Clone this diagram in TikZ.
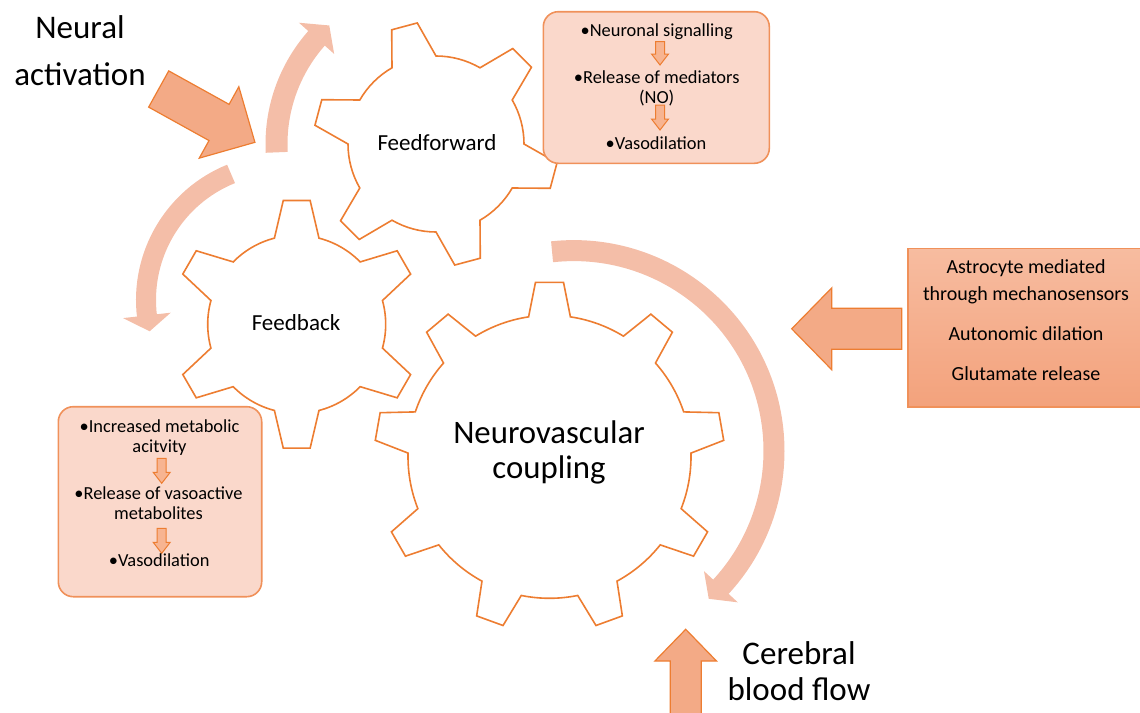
\documentclass[tikz,border=0pt]{standalone}
\usepackage{fontspec}
\setmainfont{Carlito}

\definecolor{gearorange}{RGB}{237,125,49}
\definecolor{bandpink}{RGB}{244,190,168}
\definecolor{boxpink}{RGB}{250,216,203}
\definecolor{boxline}{RGB}{240,145,90}
\definecolor{arrowfill}{RGB}{243,170,134}

\tikzset{
	pics/blockarrow/.style args={#1/#2/#3/#4/#5}{code={
		\draw[#5] (0,-#2) -- ({#1-#4},-#2) -- ({#1-#4},-#3) -- (#1,0) -- ({#1-#4},#3) -- ({#1-#4},#2) -- (0,#2) -- cycle;
	}}
}

\begin{document}
\begin{tikzpicture}[x=0.5pt,y=0.5pt,
	gear/.style={draw=gearorange,line width=0.8pt,fill=white},
	band/.style={draw=bandpink,line width=#1},
	notebox/.style={draw=boxline,fill=boxpink,line width=0.8pt,rounded corners=7.5pt},
	sidebox/.style={draw=boxline,top color={rgb,255:red,247;green,188;blue,160},bottom color={rgb,255:red,243;green,162;blue,124},line width=0.8pt},
	bigarr/.style={draw=gearorange,fill=arrowfill,line width=0.6pt},
	smallarr/.style={draw=gearorange,fill={rgb,255:red,247;green,180;blue,145},line width=0.5pt},
	biglabel/.style={font=\fontsize{16.5}{23.5}\selectfont,align=center,anchor=base},
	gearlabel/.style={font=\fontsize{11.5}{14}\selectfont,align=center,anchor=base},
	boxtext/.style={font=\fontsize{9.2}{10}\selectfont,align=center,anchor=base,inner sep=0pt}]
	\useasboundingbox (0,0) rectangle (1140,-712);
	\clip (0,0) rectangle (1140,-712);

	% round arrows around the gears
	\begin{scope}[shift={(436,-144)}]
		\draw[band=11pt] (183:159.5) arc[start angle=183,end angle=138,radius=159.5];
		\fill[bandpink] (138.5:183) -- (132:159.5) -- (138.5:136) -- cycle;
	\end{scope}
	\begin{scope}[shift={(282,-300)}]
		\draw[band=10pt] (112:136) arc[start angle=112,end angle=187,radius=136];
		\fill[bandpink] (186.5:160) -- (193.3:136) -- (186.5:112) -- cycle;
	\end{scope}
	\begin{scope}[shift={(573.7,-450.9)}]
		\draw[band=10.5pt] (96.2:200.3) arc[start angle=96.2,end angle=-43.2,radius=200.3];
		\fill[bandpink] (-42.7:223.3) -- (-47.6:200.3) -- (-42.7:177.3) -- cycle;
	\end{scope}

	% gears
	\draw[gear,shift={(436,-144)}] (30:88) \foreach \a in {45,105,...,345} {
		-- ({\a-15}:88) -- ({\a-6.2}:122.5) -- ({\a+6.2}:122.5) -- ({\a+15}:88) arc[start angle=\a+15,end angle=\a+45,radius=88]
	} -- cycle;
	\draw[gear,shift={(296.7,-324.3)}] (75.5:89) \foreach \a in {90,150,...,390} {
		-- ({\a-14.5}:89) -- ({\a-6.2}:124.5) -- ({\a+6.2}:124.5) -- ({\a+14.5}:89) arc[start angle=\a+14.5,end angle=\a+45.5,radius=89]
	} -- cycle;
	\draw[gear,shift={(549.5,-456.8)}] (81.5:141.5) \foreach \a in {90,130,...,410} {
		-- ({\a-8.5}:141.5) -- ({\a-4.6}:175) -- ({\a+4.6}:175) -- ({\a+8.5}:141.5) arc[start angle=\a+8.5,end angle=\a+31.5,radius=141.5]
	} -- cycle;

	% boxes
	\node (ffbox) [notebox,minimum width=113pt,minimum height=75.8pt] at (656.3,-87.5) {};
	\node (fbbox) [notebox,minimum width=101.7pt,minimum height=95pt] at (160,-501.7) {};
	\node (sidebox) [sidebox,minimum width=118.4pt,minimum height=79.2pt] at (1026.5,-327.5) {};

	% block arrows
	\pic[rotate=-29] at (158.7,-89) {blockarrow=110/20.7/40.8/41/bigarr};
	\pic[rotate=180] at (901.7,-328.8) {blockarrow=110/20.5/40.9/40/bigarr};
	\pic[rotate=90] at (685.7,-716) {blockarrow=86.7/15.5/30.8/31.7/bigarr};
	\pic[rotate=-90] at (660,-41.7) {blockarrow=23.3/4.5/8.5/11/smallarr};
	\pic[rotate=-90] at (660,-105) {blockarrow=25/4.5/8.5/11/smallarr};
	\pic[rotate=-90] at (161.7,-458.3) {blockarrow=25/4.5/8.5/11/smallarr};
	\pic[rotate=-90] at (161.7,-528.3) {blockarrow=25/4.5/8.5/11/smallarr};

	% labels (base = last line)
	\node (neural) [biglabel] at (80,-85) {Neural\\activation};
	\node (cbf) [biglabel,font=\fontsize{16.5}{18}\selectfont] at (799,-700.5) {Cerebral\\blood flow};
	\node (ffgear) [gearlabel] at (437,-150.7) {Feedforward};
	\node (fbgear) [gearlabel] at (296,-330.7) {Feedback};
	\node (nvgear) [biglabel,font=\fontsize{16.4}{17.5}\selectfont] at (549,-478.3) {Neurovascular\\coupling};

	\node (ffa) [boxtext] at (656.7,-36) {•Neuronal signalling};
	\node (ffb) [boxtext] at (656.7,-103.3) {•Release of mediators\\(NO)};
	\node (ffc) [boxtext] at (656,-149) {•Vasodilation};
	\node (fba) [boxtext] at (159.5,-452.3) {•Increased metabolic\\acitvity};
	\node (fbb) [boxtext] at (158.5,-519) {•Release of vasoactive\\metabolites};
	\node (fbc) [boxtext] at (159.2,-566.7) {•Vasodilation};
	\node (sidetext) [boxtext,font=\fontsize{10}{13.35}\selectfont] at (1026,-380) {Astrocyte mediated\\through mechanosensors\\[6.65pt]Autonomic dilation\\[6.65pt]Glutamate release};
\end{tikzpicture}
\end{document}
